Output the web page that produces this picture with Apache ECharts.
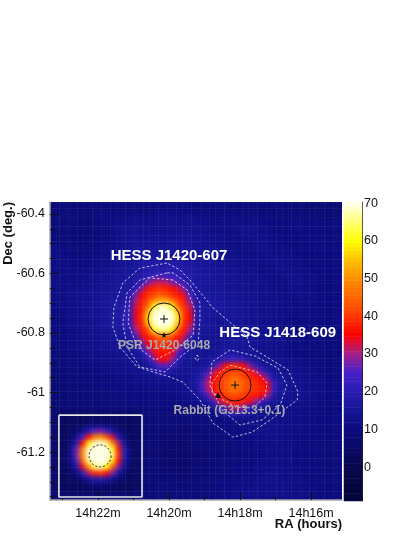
<!DOCTYPE html>
<html><head><meta charset="utf-8">
<style>html,body{margin:0;padding:0;background:#fff}
#wrap{position:relative;width:415px;height:537px;overflow:hidden}
#h{position:absolute;left:50px;top:202px;width:292px;height:298px;overflow:hidden;background:#0c0c80}
#h canvas{filter:blur(2px)}
#c{position:absolute;left:0;top:0;width:415px;height:537px}</style>
<script src="https://cdn.jsdelivr.net/npm/echarts@6/dist/echarts.min.js"></script></head>
<body><div id="wrap"><div id="h"></div><div id="c"></div></div>
<script>
// excess map values, rows top to bottom, columns left to right
const excessMap = [
[8,9,9,8,7,8,9,10,9,8,8,9,10,10,9,8,9,10,10,9,9,10,11,10,9,8,9,10,10,9,8,8,9,10,9,8,8,9,9,8,7,8,9,8,7,7,8,8,7],
[8,8,9,9,8,8,8,9,10,9,8,9,9,10,10,9,9,10,11,10,9,10,10,10,9,9,9,9,10,10,9,8,9,9,9,8,8,8,9,9,8,8,8,8,8,7,7,8,8],
[8,9,9,9,9,8,8,9,10,10,10,10,10,11,12,11,10,11,12,12,11,11,11,12,11,10,10,10,10,11,11,10,10,10,10,10,9,9,9,10,10,9,9,10,9,9,8,8,8],
[9,9,10,9,9,8,8,9,10,11,11,12,12,12,13,13,12,12,12,13,13,12,12,13,13,12,11,11,11,11,12,12,11,11,12,11,10,10,10,10,11,11,10,10,11,10,9,9,9],
[8,9,9,9,8,8,8,9,10,10,11,12,13,13,13,13,13,12,12,12,13,13,13,13,13,12,12,11,11,11,11,12,12,12,12,11,11,10,10,10,10,11,11,10,10,10,10,9,9],
[9,9,9,8,8,8,8,9,9,10,11,12,13,14,14,13,13,13,13,13,13,13,14,14,13,13,12,12,11,11,11,11,12,12,12,12,11,11,10,10,10,10,10,11,10,10,10,9,9],
[10,10,9,9,8,8,9,9,10,10,11,12,13,14,14,14,14,13,13,13,14,14,14,14,14,13,13,12,12,11,11,11,11,12,12,12,12,11,11,10,10,10,10,10,11,10,10,10,9],
[11,10,10,9,9,9,9,10,10,11,11,12,13,14,15,15,14,14,14,14,14,14,15,15,14,14,13,13,12,12,11,11,11,11,12,12,12,11,11,11,10,10,10,10,10,11,10,10,10],
[11,11,10,10,9,9,10,10,11,11,12,12,13,14,15,15,15,15,15,15,15,15,15,15,15,14,14,13,13,12,12,11,11,11,11,12,12,12,11,11,11,10,10,10,10,10,10,10,10],
[11,11,11,10,10,10,10,11,11,12,12,13,13,14,15,16,16,16,16,16,16,16,16,15,15,15,14,14,13,13,12,12,12,11,11,11,12,12,12,11,11,11,10,10,10,10,10,10,10],
[11,11,11,11,10,10,11,11,12,12,13,13,14,15,16,17,17,17,17,18,18,17,17,16,16,15,15,14,14,13,13,12,12,12,11,11,11,12,12,12,11,11,11,10,10,10,10,10,10],
[11,11,11,11,11,11,11,12,12,13,13,14,15,15,16,17,18,19,19,19,19,19,18,18,17,16,15,15,14,14,13,13,12,12,12,11,11,11,12,12,12,11,11,11,10,10,10,10,10],
[11,11,11,11,11,11,12,12,13,13,14,15,15,16,17,18,20,22,23,23,22,21,19,18,17,16,16,15,14,14,14,13,13,12,12,12,11,11,11,12,12,12,11,11,11,10,10,10,10],
[11,11,11,11,11,12,12,13,13,14,14,15,16,16,18,21,27,31,32,31,28,25,20,18,17,16,16,15,15,14,14,13,13,13,12,12,12,11,11,11,12,12,12,11,11,10,10,10,10],
[11,11,11,11,12,12,13,13,14,14,15,15,16,17,21,28,36,38,39,38,36,33,27,20,16,16,15,15,15,14,14,13,13,13,12,12,12,11,11,11,12,12,11,11,10,10,10,10,10],
[11,11,11,12,12,13,13,14,14,15,15,16,16,19,27,35,39,41,43,41,39,36,33,24,17,16,16,15,15,15,14,14,13,13,13,12,12,12,11,11,11,12,11,11,11,10,10,10,10],
[11,11,11,12,12,13,13,14,15,15,16,16,17,21,31,37,42,48,52,52,46,41,37,28,18,16,16,16,15,15,15,14,14,13,13,12,12,12,12,11,11,11,11,11,11,10,10,10,10],
[10,11,11,11,12,13,13,14,15,15,16,17,18,22,33,38,46,60,68,68,60,45,39,32,19,16,16,16,16,15,15,15,14,14,13,13,12,12,12,11,11,11,11,11,10,10,10,10,10],
[10,10,11,11,12,12,13,14,14,15,16,17,18,23,34,39,55,68,70,70,68,55,40,34,20,16,16,15,15,15,15,15,14,14,13,13,13,12,12,11,11,11,11,11,10,10,10,10,10],
[10,10,11,12,12,13,13,14,14,15,16,17,19,23,34,40,58,70,70,70,70,58,40,35,20,16,15,14,14,15,15,14,14,13,13,13,12,12,11,11,10,10,11,11,10,9,10,10,10],
[10,10,11,11,12,12,13,13,14,15,16,17,18,22,33,38,55,68,70,70,68,55,39,33,19,16,15,15,14,15,15,15,14,14,13,13,12,12,12,11,11,10,10,10,11,10,10,10,10],
[10,10,10,11,11,12,13,13,14,14,15,16,17,20,30,37,43,60,66,66,60,43,37,30,17,15,15,14,14,14,15,15,15,14,14,13,13,12,12,11,11,10,10,10,10,10,10,10,9],
[10,10,10,11,11,12,12,13,13,14,14,15,16,17,25,34,38,43,48,48,43,38,33,23,16,15,14,14,14,14,15,15,15,15,14,14,13,13,12,12,11,11,10,10,10,10,9,9,9],
[9,10,10,10,11,11,12,12,13,14,14,15,15,16,20,28,35,38,40,40,38,35,27,18,15,14,14,14,14,14,15,15,15,15,14,14,13,13,12,12,11,11,10,10,10,10,9,9,9],
[9,10,10,11,11,12,12,12,13,13,14,14,15,15,16,22,31,36,38,38,36,30,21,16,15,15,14,14,14,15,15,15,14,14,13,13,12,12,11,11,10,10,11,10,10,9,10,10,9],
[9,9,10,10,11,11,12,12,12,13,13,13,14,14,15,17,25,33,36,37,34,25,17,15,14,14,14,14,16,17,17,16,15,14,14,13,13,12,12,11,11,10,10,10,10,10,9,9,9],
[9,9,9,10,10,11,11,11,12,12,12,13,13,13,14,15,19,27,34,35,29,20,15,14,14,14,15,16,18,21,23,23,20,16,14,14,13,13,12,12,11,11,10,10,10,9,9,9,9],
[8,9,9,9,10,10,10,11,11,11,12,12,12,13,13,13,14,20,25,26,22,17,14,14,14,14,16,20,28,35,38,38,35,28,21,16,14,14,13,13,12,12,11,11,10,10,10,9,9],
[8,8,9,9,9,10,10,10,10,11,11,11,12,12,12,13,13,16,18,18,16,14,14,14,15,17,22,31,36,39,41,41,39,36,32,25,18,15,14,13,13,12,12,11,11,10,10,10,9],
[8,8,8,9,9,9,10,10,10,10,10,11,11,11,12,12,12,13,13,13,13,13,13,14,16,19,28,35,38,42,45,45,42,39,37,35,27,18,15,14,13,13,12,12,11,11,10,10,10],
[8,8,8,8,9,9,9,9,10,10,10,10,11,11,11,11,12,12,12,12,12,12,13,14,16,23,31,36,40,43,47,47,44,41,39,37,34,23,16,14,13,13,12,12,11,11,10,10,10],
[8,8,8,8,8,9,9,9,9,10,10,10,10,10,11,11,11,11,11,11,11,12,12,14,16,22,30,35,40,43,46,46,43,41,39,38,36,23,16,14,13,13,12,12,11,11,10,10,10],
[8,8,8,8,8,8,9,9,9,9,9,10,10,10,10,10,10,10,10,10,10,11,11,12,13,17,24,32,37,40,42,42,40,38,37,35,29,18,15,14,13,13,12,12,11,11,10,10,10],
[7,8,8,8,8,8,8,9,9,9,9,9,9,10,10,10,10,10,10,10,10,10,11,11,12,13,16,23,32,37,38,38,37,34,30,24,18,15,14,13,13,12,12,11,11,10,10,10,10],
[7,7,8,8,8,8,8,8,8,9,9,9,9,9,9,9,9,10,10,10,10,10,10,10,11,12,13,16,20,26,32,32,28,22,18,15,14,13,13,12,12,12,11,11,10,10,10,10,10],
[7,5,5,5,5,5,5,5,5,5,5,5,5,5,5,8,9,9,9,9,9,9,9,9,10,10,10,11,14,17,19,19,17,15,13,13,13,12,12,12,12,11,11,11,10,10,10,10,10],
[7,4,3,3,4,3,3,4,3,3,4,3,3,4,3,8,8,9,9,9,9,9,9,9,9,9,10,10,10,11,11,12,12,12,12,12,12,12,12,12,12,11,11,11,11,10,10,10,10],
[7,4,3,3,4,5,8,10,11,9,7,5,3,3,3,8,8,8,9,9,9,8,8,8,9,9,9,9,10,10,10,11,11,11,12,12,12,12,12,12,11,11,11,11,10,10,10,10,10],
[7,3,3,4,7,12,20,26,28,24,17,9,5,4,3,8,8,8,8,8,8,7,7,8,8,9,9,9,9,10,10,10,11,11,11,12,12,12,12,11,11,11,11,10,10,10,10,10,9],
[7,3,4,5,13,25,36,48,50,44,33,19,9,4,3,8,8,8,8,7,7,7,7,7,8,8,8,9,9,9,10,10,10,11,11,11,12,12,12,11,11,11,10,10,10,10,10,9,9],
[7,3,4,8,20,36,58,68,70,66,50,31,14,5,3,8,8,8,7,7,6,6,6,7,7,8,8,8,9,9,9,10,10,10,11,11,11,12,12,11,11,11,10,10,10,10,9,9,9],
[7,3,4,11,27,48,68,70,70,70,62,38,19,8,3,8,8,7,7,6,6,6,6,6,7,7,8,8,9,9,9,9,10,10,10,11,11,11,11,11,11,10,10,10,10,10,9,9,9],
[7,3,5,12,28,50,70,70,70,70,66,40,20,8,3,8,8,7,7,6,6,5,5,6,6,7,7,8,8,9,9,9,10,10,10,10,11,11,11,11,11,10,10,10,10,9,9,9,9],
[7,3,4,10,25,44,66,70,70,70,58,36,17,7,3,8,8,7,7,6,6,6,6,6,7,7,8,8,9,9,9,9,10,10,10,11,11,11,11,11,11,10,10,10,10,10,9,9,9],
[7,3,4,7,17,33,50,64,68,60,44,28,13,5,3,8,8,8,7,7,6,6,6,7,7,8,8,8,9,9,9,10,10,10,11,11,11,12,12,11,11,11,10,10,10,10,9,9,9],
[7,3,3,5,10,19,31,38,40,36,28,15,8,4,3,8,8,8,8,7,7,7,7,7,8,8,8,9,9,9,10,10,10,11,11,11,12,12,12,11,11,11,10,10,10,10,10,9,9],
[7,3,3,3,5,10,14,19,20,17,13,8,5,3,3,8,8,8,8,8,8,7,7,8,8,9,9,9,9,10,10,10,11,11,11,12,12,12,12,11,11,11,11,10,10,10,10,10,9],
[7,3,3,3,3,4,5,8,8,7,5,3,3,3,3,8,8,8,9,9,9,8,8,8,9,9,9,9,10,10,10,11,11,11,12,12,12,12,12,12,11,11,11,11,10,10,10,10,10],
[7,3,4,3,3,4,3,3,4,3,3,4,3,3,4,8,8,9,9,9,9,9,9,9,9,9,10,10,10,11,11,12,12,12,12,12,12,12,12,12,12,11,11,11,11,10,10,10,10],
[8,8,8,8,8,8,8,9,9,9,9,9,9,9,9,8,8,9,9,9,9,9,9,9,9,9,10,10,10,11,11,12,12,12,12,12,12,12,12,12,11,11,11,11,10,10,10,10,10]
];
const barLevels = [-9,-8,-7,-6,-5,-4,-3,-2,-1,0,1,2,3,4,5,6,7,8,9,10,11,12,13,14,15,16,17,18,19,20,21,22,23,24,25,26,27,28,29,30,31,32,33,34,35,36,37,38,39,40,41,42,43,44,45,46,47,48,49,50,51,52,53,54,55,56,57,58,59,60,61,62,63,64,65,66,67,68,69,70];
const colorStops = ['#04043a','#060640','#080850','#0a0a68','#0c0c80','#161698','#2a1cb0','#4820c8','#a82088','#ff0000','#ff3800','#ff6600','#ff9000','#ffc000','#ffff00','#ffff70','#ffffe8'];
const plaidAlpha = ['rgba(255,255,255,0.04)','rgba(255,255,255,0)','rgba(255,255,255,0.02)','rgba(255,255,255,0.06)','rgba(255,255,255,0)','rgba(255,255,255,0)','rgba(255,255,255,0.035)','rgba(255,255,255,0.015)','rgba(255,255,255,0)','rgba(255,255,255,0.05)','rgba(255,255,255,0)'];

const raTicks = [22,20,18,16];
const raMinor = [23,21,19,17];
const decTicks = [-60.4,-60.6,-60.8,-61,-61.2];
const decMinor = [-60.45,-60.5,-60.55,-60.65,-60.7,-60.75,-60.85,-60.9,-60.95,-61.05,-61.1,-61.15,-61.25,-61.3,-61.35];
const barTicks = [0,10,20,30,40,50,60,70];

const contourOuter = [[20.06,-60.565],[20.82,-60.582],[21.30,-60.632],[21.55,-60.713],[21.58,-60.780],[21.38,-60.847],[20.90,-60.914],[19.97,-60.948],[19.61,-60.965],[19.13,-61.025],[18.76,-61.103],[18.20,-61.150],[17.66,-61.133],[17.15,-61.092],[16.39,-61.025],[16.37,-60.998],[16.65,-60.924],[17.24,-60.881],[17.72,-60.847],[17.80,-60.813],[18.76,-60.716],[19.41,-60.622],[19.69,-60.588],[20.06,-60.565]];
const contourMidA = [[20.06,-60.598],[20.82,-60.622],[21.18,-60.666],[21.30,-60.766],[21.18,-60.847],[20.82,-60.914],[20.11,-60.931],[19.69,-60.881],[19.18,-60.834],[19.13,-60.756],[19.13,-60.699],[19.41,-60.639],[19.89,-60.598],[20.06,-60.598]];
const contourInA = [[19.89,-60.622],[20.54,-60.615],[21.10,-60.679],[21.15,-60.766],[20.90,-60.847],[20.39,-60.891],[19.83,-60.857],[19.32,-60.807],[19.27,-60.723],[19.49,-60.655],[19.89,-60.622]];
const contourMidB = [[18.28,-60.857],[18.79,-60.897],[18.85,-60.975],[18.51,-61.059],[18.00,-61.109],[17.38,-61.092],[16.87,-61.042],[16.68,-60.975],[16.93,-60.918],[17.58,-60.877],[18.28,-60.857]];
const contourInB = [[18.28,-60.908],[17.52,-60.931],[17.24,-60.968],[17.30,-61.015],[17.63,-61.052],[18.08,-61.049],[18.48,-61.025],[18.79,-60.998],[18.79,-60.968],[18.56,-60.931],[18.28,-60.908]];
const contourSmall = [[19.21,-60.874],[19.15,-60.884],[19.21,-60.894],[19.27,-60.884],[19.21,-60.874]];
const insetBox = [[23.10,-61.076],[20.76,-61.076],[20.76,-61.351],[23.10,-61.351],[23.10,-61.076]];

const centres = [[20.14,-60.753],[18.14,-60.975]];
const pulsar = [[20.14,-60.807]];
const rabbit = [[18.62,-61.008]];
const psf = [[21.94,-61.213]];
const whiteLabels = [[20.0,-60.54,'HESS J1420-607'],[16.94,-60.80,'HESS J1418-609']];
const greyLabels = [[20.14,-60.844,'PSR J1420-6048'],[18.30,-61.06,'Rabbit (G313.3+0.1)']];

const FONT = '"Liberation Sans", Arial, sans-serif';
const cells = [];
excessMap.forEach((row, j) => row.forEach((v, i) => cells.push([i, j, v])));
const lineSeries = d => ({type:'line', xAxisIndex:0, yAxisIndex:0, data:d, symbol:'none', silent:true, z:5,
  lineStyle:{color:'#fff', width:0.9, type:[2.5,2], opacity:0.8}});
const hidden = {axisLine:{show:false}, axisTick:{show:false}, axisLabel:{show:false}, splitLine:{show:false}};
const RA = {min:15.13, max:23.35}, DEC = {min:-61.361, max:-60.36};
const textBase = {fontFamily:FONT, color:'#111', fontSize:12.5};
const overlay = {xAxisIndex:0, yAxisIndex:0, silent:true, z:7};
const solid = {opacity:1};

// heat map layer, softened by CSS because the reference map is smoothed
const heat = echarts.init(document.getElementById('h'), null, {renderer:'canvas'});
heat.setOption({
  animation:false,
  grid:{left:0, top:0, right:0, bottom:0},
  xAxis:{type:'category', data:excessMap[0].map((_, i) => i), ...hidden},
  yAxis:{type:'category', inverse:true, data:excessMap.map((_, j) => j), ...hidden},
  visualMap:{type:'continuous', show:false, min:-10, max:70, dimension:2, inRange:{color:colorStops}},
  series:[{type:'heatmap', data:cells, progressive:0, silent:true}]
});

const chart = echarts.init(document.getElementById('c'), null, {renderer:'canvas'});
const plaidX = Array.from({length:97}, (_, i) => i), plaidY = Array.from({length:99}, (_, i) => i);
chart.setOption({
  animation:false, backgroundColor:'transparent',
  grid:[{left:50, top:202, width:292, height:298},{left:344, top:202, width:18, height:299}],
  xAxis:[
    {type:'value', gridIndex:0, inverse:true, ...RA, position:'bottom', splitLine:{show:false},
      axisLine:{show:true, lineStyle:{color:'#aaa', width:1.5}},
      axisTick:{show:true, inside:true, length:8, customValues:raTicks, lineStyle:{color:'#111'}},
      axisLabel:{show:true, customValues:raTicks, margin:7, ...textBase, formatter:v => '14h' + v + 'm'}},
    {type:'value', gridIndex:0, inverse:true, ...RA, position:'bottom', splitLine:{show:false},
      axisLine:{show:false}, axisLabel:{show:false},
      axisTick:{show:true, inside:true, length:4, customValues:raMinor, lineStyle:{color:'#111'}}},
    {type:'category', gridIndex:1, data:['bar'], ...hidden},
    {type:'category', gridIndex:0, data:plaidX, ...hidden,
      splitLine:{show:true, interval:0, lineStyle:{width:1, color:plaidAlpha}}}
  ],
  yAxis:[
    {type:'value', gridIndex:0, ...DEC, position:'left', splitLine:{show:false},
      axisLine:{show:true, lineStyle:{color:'#aaa', width:1.5}},
      axisTick:{show:true, inside:true, length:9, customValues:decTicks, lineStyle:{color:'#111'}},
      axisLabel:{show:true, customValues:decTicks, margin:5, ...textBase, formatter:v => String(+v.toFixed(1))}},
    {type:'value', gridIndex:0, ...DEC, position:'left', splitLine:{show:false},
      axisLine:{show:false}, axisLabel:{show:false},
      axisTick:{show:true, inside:true, length:5, customValues:decMinor, lineStyle:{color:'#111'}}},
    {type:'category', gridIndex:1, data:barLevels, ...hidden},
    {type:'value', gridIndex:1, min:-9, max:70.3, position:'right', splitLine:{show:false},
      axisLine:{show:true, lineStyle:{color:'#222', width:1}},
      axisTick:{show:true, inside:true, length:10, customValues:barTicks, lineStyle:{color:'#222'}},
      axisLabel:{show:true, customValues:barTicks, margin:2, ...textBase}},
    {type:'category', gridIndex:0, data:plaidY, ...hidden,
      splitLine:{show:true, interval:0, lineStyle:{width:1, color:plaidAlpha}}}
  ],
  visualMap:{type:'continuous', show:false, min:-10, max:70, dimension:2, seriesIndex:[0], inRange:{color:colorStops}},
  series:[
    {type:'heatmap', xAxisIndex:2, yAxisIndex:2, data:barLevels.map((v, j) => [0, j, v]), progressive:0, silent:true, z:1},
    lineSeries(contourOuter), lineSeries(contourMidA), lineSeries(contourInA),
    lineSeries(contourMidB), lineSeries(contourInB), lineSeries(contourSmall),
    {type:'line', ...overlay, data:insetBox, symbol:'none', z:6, lineStyle:{color:'#e8e8e8', width:1.6}},
    {type:'scatter', ...overlay, data:centres, symbol:'circle', symbolSize:32,
      itemStyle:{color:'rgba(0,0,0,0)', borderColor:'#111', borderWidth:1, ...solid}},
    {type:'scatter', ...overlay, data:centres, symbol:'path://M0 5H10M5 0V10', symbolSize:8,
      itemStyle:{color:'rgba(0,0,0,0)', borderColor:'#111', borderWidth:1, ...solid}},
    {type:'scatter', ...overlay, data:pulsar, symbol:'path://M5 0L6.2 3.4L10 3.8L7 6L8 10L5 7.8L2 10L3 6L0 3.8L3.8 3.4Z', symbolSize:6, itemStyle:{color:'#111', ...solid}},
    {type:'scatter', ...overlay, data:rabbit, symbol:'triangle', symbolSize:6, itemStyle:{color:'#111', ...solid}},
    {type:'scatter', ...overlay, data:psf, symbol:'circle', symbolSize:22,
      itemStyle:{color:'rgba(0,0,0,0)', borderColor:'#222', borderWidth:1, borderType:[2,2], ...solid}},
    {type:'scatter', ...overlay, data:whiteLabels, symbolSize:0, z:8, itemStyle:solid,
      label:{show:true, position:'inside', formatter:p => p.value[2], color:'#fff', fontFamily:FONT, fontWeight:'bold', fontSize:15}},
    {type:'scatter', ...overlay, data:greyLabels, symbolSize:0, z:8, itemStyle:solid,
      label:{show:true, position:'inside', formatter:p => p.value[2], color:'#aaa', fontFamily:FONT, fontWeight:'bold', fontSize:12}}
  ],
  graphic:[
    {type:'text', x:8, y:202, rotation:Math.PI/2, silent:true, z:10,
      style:{text:'Dec (deg.)', font:'bold 13px ' + FONT, fill:'#111', align:'right', verticalAlign:'middle'}},
    {type:'text', right:73, top:518, silent:true, z:10,
      style:{text:'RA (hours)', font:'bold 13px ' + FONT, fill:'#111'}}
  ]
});
</script></body></html>
